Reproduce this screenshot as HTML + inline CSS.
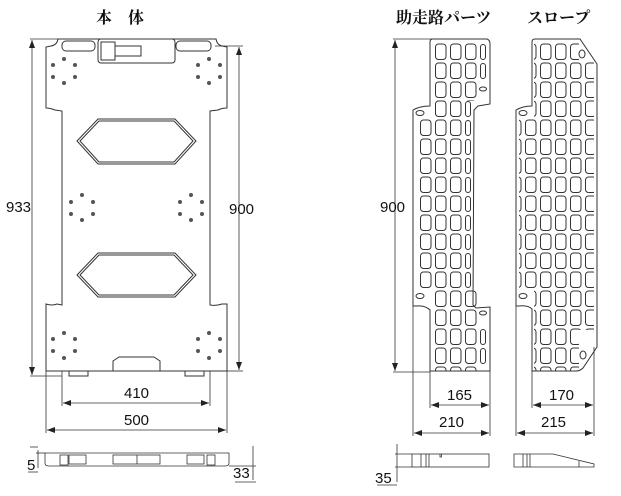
<!DOCTYPE html>
<html><head><meta charset="utf-8"><style>
html,body{margin:0;padding:0;background:#fff;}
svg{display:block;}
text{font-family:"Liberation Sans",sans-serif;font-size:15px;fill:#111;}
.t{font-family:"Liberation Serif","Noto Serif CJK SC",serif;font-weight:bold;font-size:16px;}
</style></head><body>
<svg width="621" height="496" viewBox="0 0 621 496" xmlns="http://www.w3.org/2000/svg">
<defs>
<pattern id="g" patternUnits="userSpaceOnUse" x="0" y="43" width="15" height="19">
<rect x="0.5" y="1" width="10.5" height="15.5" rx="3" fill="none" stroke="#333" stroke-width="1"/>
</pattern>
<pattern id="s" patternUnits="userSpaceOnUse" x="0" y="43" width="15" height="19">
<rect x="0.5" y="1.5" width="5" height="15" rx="2.5" fill="none" stroke="#333" stroke-width="1"/>
</pattern>
<marker id="a" markerWidth="8" markerHeight="6" refX="8" refY="3" orient="auto-start-reverse" markerUnits="userSpaceOnUse">
<path d="M0,0 L8,3 L0,6 z" fill="#222"/></marker>
</defs>
<g fill="none" stroke="#333" stroke-width="1">
<path d="M58,39 L216,39 Q217,45 222,46 L227,47 L227,108 Q222,108 218,110 L210,111 L210,305 Q216,306 222,304 L227,304 L227,371 L46,371 L46,304 Q52,306 57,304 L62,305 L62,111 L55,110 Q50,108 46,108 L46,47 L51,46 Q57,45 58,39 Z"/>
<rect x="62" y="41" width="33" height="10" rx="4"/>
<rect x="176" y="41" width="35" height="10" rx="4"/>
<rect x="98" y="39" width="77" height="24" rx="3"/>
<rect x="101" y="42" width="14" height="18"/>
<rect x="115" y="46" width="26" height="10"/>
<path d="M77,141 L98,119 L175,119 L196,141 L175,164 L98,164 Z"/>
<path d="M80,141 L99,121 L174,121 L193,141 L174,162 L99,162 Z"/>
<path d="M77,275 L98,253 L175,253 L196,275 L175,297 L98,297 Z"/>
<path d="M80,275 L99,255 L174,255 L193,275 L174,295 L99,295 Z"/>
<path d="M113,371 L113,361 L119,357 L154,357 L160,361 L160,371 Z"/>
<rect x="69" y="371" width="19" height="5"/>
<rect x="185" y="371" width="19" height="5"/>
</g>
<g fill="#555">
<circle cx="53" cy="65" r="2"/><circle cx="64" cy="59" r="2"/><circle cx="75" cy="65" r="2"/><circle cx="53" cy="77" r="2"/><circle cx="64" cy="83" r="2"/><circle cx="75" cy="77" r="2"/>
<circle cx="220" cy="65" r="2"/><circle cx="209" cy="59" r="2"/><circle cx="198" cy="65" r="2"/><circle cx="220" cy="77" r="2"/><circle cx="209" cy="83" r="2"/><circle cx="198" cy="77" r="2"/>
<circle cx="82" cy="195" r="2"/><circle cx="71" cy="202" r="2"/><circle cx="93" cy="202" r="2"/><circle cx="71" cy="214" r="2"/><circle cx="93" cy="214" r="2"/><circle cx="82" cy="220" r="2"/>
<circle cx="191" cy="195" r="2"/><circle cx="180" cy="202" r="2"/><circle cx="202" cy="202" r="2"/><circle cx="180" cy="214" r="2"/><circle cx="202" cy="214" r="2"/><circle cx="191" cy="220" r="2"/>
<circle cx="64" cy="333" r="2"/><circle cx="53" cy="339" r="2"/><circle cx="75" cy="339" r="2"/><circle cx="53" cy="351" r="2"/><circle cx="75" cy="351" r="2"/><circle cx="64" cy="358" r="2"/>
<circle cx="209" cy="333" r="2"/><circle cx="198" cy="339" r="2"/><circle cx="220" cy="339" r="2"/><circle cx="198" cy="351" r="2"/><circle cx="220" cy="351" r="2"/><circle cx="209" cy="358" r="2"/>
</g>
<g stroke="#333" stroke-width="0.8" fill="none">
<line x1="30" y1="39" x2="60" y2="39"/><line x1="30" y1="376" x2="62" y2="376"/>
<line x1="32" y1="40" x2="32" y2="375" marker-start="url(#a)" marker-end="url(#a)"/>
<line x1="215" y1="46" x2="243" y2="46"/><line x1="227" y1="371" x2="243" y2="371"/>
<line x1="239" y1="47" x2="239" y2="370" marker-start="url(#a)" marker-end="url(#a)"/>
<line x1="62" y1="371" x2="62" y2="406"/><line x1="210" y1="371" x2="210" y2="406"/>
<line x1="63" y1="403" x2="209" y2="403" marker-start="url(#a)" marker-end="url(#a)"/>
<line x1="46" y1="371" x2="46" y2="433"/><line x1="227" y1="371" x2="227" y2="433"/>
<line x1="47" y1="430" x2="226" y2="430" marker-start="url(#a)" marker-end="url(#a)"/>
<path d="M45,453 L229,453 L229,463 Q229,466 225,466 L49,466 Q45,466 45,463 Z"/>
<rect x="60" y="455" width="8" height="10"/><rect x="69" y="455" width="17" height="9"/>
<rect x="207" y="455" width="8" height="10"/><rect x="187" y="455" width="17" height="9"/>
<rect x="113" y="455" width="47" height="9"/><line x1="137" y1="455" x2="137" y2="464"/>
<line x1="38" y1="450" x2="38" y2="468"/><line x1="30" y1="447" x2="38" y2="447"/><line x1="36" y1="453" x2="45" y2="453"/>
<line x1="28" y1="472" x2="38" y2="472"/>
<line x1="253" y1="446" x2="253" y2="480"/><line x1="229" y1="466" x2="256" y2="466"/><line x1="235" y1="482" x2="256" y2="482"/>
</g>
<text x="96" y="23" class="t">本　体</text>
<text x="6" y="212">933</text>
<text x="229" y="214">900</text>
<text x="124" y="398">410</text>
<text x="124" y="425">500</text>
<text x="27" y="470">5</text>
<text x="233" y="478">33</text>

<g fill="none" stroke="#333" stroke-width="1">
<path d="M433,39 L487,39 Q490,40 490,44 L490,104 L478,106 L474,110 L473,305 L476,308 L490,307 L490,371 L430,371 L430,310 Q425,305 416,306 L413,306 L413,110 Q420,106 430,106 L430,42 Q430,39 433,39 Z"/>
<rect x="433" y="41" width="45" height="60" fill="url(#g)" stroke="none"/>
<rect x="479" y="41" width="15" height="38" fill="url(#s)" stroke="none"/>
<rect x="433" y="98" width="30" height="20" fill="url(#g)" stroke="none"/>
<rect x="418" y="117" width="45" height="172" fill="url(#g)" stroke="none"/>
<rect x="463" y="98" width="15" height="191" fill="url(#s)" stroke="none"/>
<rect x="433" y="288" width="45" height="83" fill="url(#g)" stroke="none"/>
<rect x="479" y="326" width="15" height="40" fill="url(#s)" stroke="none"/>
<ellipse cx="483" cy="89" rx="3.5" ry="2"/><ellipse cx="420" cy="113" rx="4" ry="2.5"/><ellipse cx="483" cy="313" rx="3.5" ry="2"/><ellipse cx="420" cy="296" rx="4" ry="2.5"/>
</g>
<g fill="none" stroke="#333" stroke-width="1">
<path d="M535,39 L580,39 L597,64 L597,347 L583,368 Q580,371 576,371 L532,371 L532,309 Q528,305 519,306 L516,306 L516,110 Q523,106 532,106 L532,42 Q532,39 535,39 Z"/>
<rect x="534" y="41" width="45" height="267" fill="url(#g)" stroke="none"/>
<rect x="534" y="307" width="45" height="64" fill="url(#g)" stroke="none"/>
<rect x="579" y="60" width="15" height="270" fill="url(#g)" stroke="none"/>
<rect x="519" y="117" width="15" height="172" fill="url(#g)" stroke="none"/>
<ellipse cx="582" cy="54" rx="3" ry="4"/><ellipse cx="583" cy="355" rx="3" ry="4"/><ellipse cx="523" cy="113" rx="4" ry="2.5"/><ellipse cx="523" cy="296" rx="4" ry="2.5"/>
</g>
<g stroke="#333" stroke-width="0.8" fill="none">
<line x1="393" y1="39" x2="433" y2="39"/><line x1="393" y1="372" x2="430" y2="372"/>
<line x1="395" y1="40" x2="395" y2="371" marker-start="url(#a)" marker-end="url(#a)"/>
<line x1="430" y1="371" x2="430" y2="408"/><line x1="490" y1="371" x2="490" y2="436"/>
<line x1="431" y1="405" x2="489" y2="405" marker-start="url(#a)" marker-end="url(#a)"/>
<line x1="413" y1="306" x2="413" y2="436"/>
<line x1="414" y1="433" x2="489" y2="433" marker-start="url(#a)" marker-end="url(#a)"/>
<line x1="532" y1="371" x2="532" y2="408"/><line x1="594" y1="347" x2="594" y2="436"/>
<line x1="533" y1="405" x2="593" y2="405" marker-start="url(#a)" marker-end="url(#a)"/>
<line x1="516" y1="306" x2="516" y2="436"/>
<line x1="517" y1="433" x2="593" y2="433" marker-start="url(#a)" marker-end="url(#a)"/>
<rect x="412" y="454" width="77" height="13"/>
<line x1="421" y1="454" x2="421" y2="467"/><line x1="426" y1="454" x2="426" y2="467"/><line x1="429" y1="454" x2="429" y2="467"/>
<path d="M440,454 l0,3 l1.5,0 l0,-3"/>
<path d="M514,454 L553,454 L594,464 L594,467 L514,467 Z"/>
<line x1="523" y1="454" x2="523" y2="467"/><line x1="527" y1="454" x2="527" y2="467"/><line x1="530" y1="454" x2="530" y2="467"/><line x1="579" y1="461" x2="579" y2="467"/>
<line x1="397" y1="444" x2="397" y2="482"/><line x1="395" y1="454" x2="412" y2="454"/><line x1="395" y1="467" x2="412" y2="467"/>
<line x1="377" y1="485" x2="397" y2="485"/>
</g>
<text x="380" y="212">900</text>
<text x="447" y="400">165</text>
<text x="439" y="427">210</text>
<text x="549" y="400">170</text>
<text x="541" y="427">215</text>
<text x="375" y="483">35</text>
<text x="396" y="23" class="t" style="font-family:'Noto Serif CJK SC',serif">助走路パーツ</text>
<text x="527" y="23" class="t" style="font-family:'Noto Serif CJK SC',serif">スロープ</text>
</svg>
</body></html>
